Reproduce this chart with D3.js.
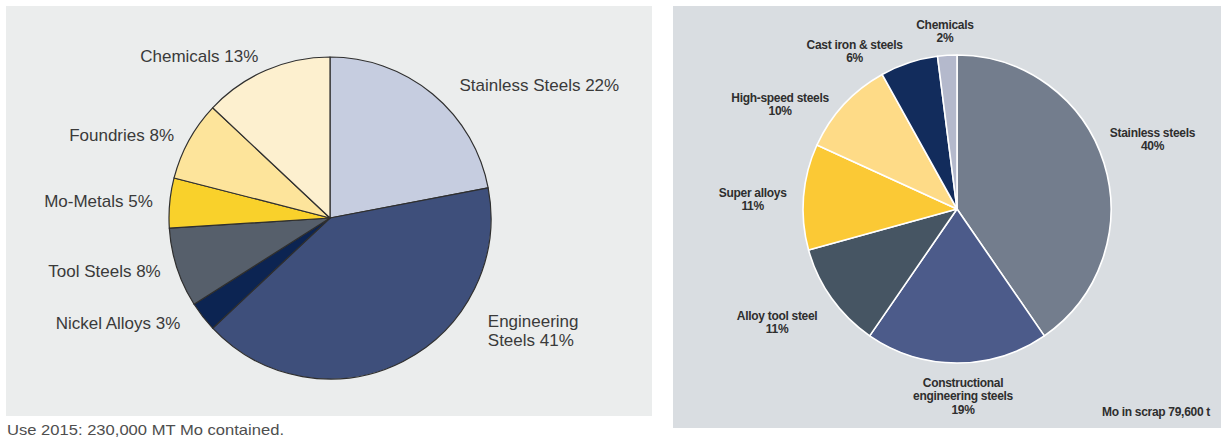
<!DOCTYPE html>
<html>
<head>
<meta charset="utf-8">
<script src="https://cdn.jsdelivr.net/npm/d3@7"></script>
<style>
  html, body { margin: 0; padding: 0; background: #ffffff; }
  svg { display: block; }
</style>
</head>
<body>
<svg id="chart" width="1226" height="446"></svg>
<script>
// Molybdenum end-use, 2015 (left) and molybdenum in scrap (right)
const useCategories = ["Stainless Steels", "Engineering\nSteels", "Nickel Alloys", "Tool Steels", "Mo-Metals", "Foundries", "Chemicals"];
const useValues = [22, 41, 3, 8, 5, 8, 13];
const useColors = ["#c6cde0", "#3e4f7b", "#0c2452", "#565f6b", "#f9d12b", "#fde49b", "#fdf0cf"];

const scrapCategories = ["Stainless steels", "Constructional\nengineering steels", "Alloy tool steel", "Super alloys", "High-speed steels", "Cast iron & steels", "Chemicals"];
const scrapValues = [40, 19, 11, 11, 10, 6, 2];
const scrapColors = ["#737d8d", "#4c5b8a", "#465563", "#fbc935", "#fedb87", "#122c5c", "#b4b9cc"];

const useCaption = "Use 2015: 230,000 MT Mo contained.";
const scrapNote = "Mo in scrap 79,600 t";

const svg = d3.select("#chart");

// ---------- left panel ----------
const L = { x0: 6, y0: 6, x1: 652, y1: 416, cx: 330, cy: 218, r: 161, labelR: 178 };
const useNudge = [[16, 4], [77, -46], [-9, -4], [0, -2], [0, 0], [0, 3], [-1, 1]];

svg.append("rect")
  .attr("x", L.x0).attr("y", L.y0)
  .attr("width", L.x1 - L.x0).attr("height", L.y1 - L.y0)
  .attr("fill", "#ebeded");

const pie = d3.pie().sort(null).value(d => d.value);
const useData = useCategories.map((c, i) => ({ cat: c, value: useValues[i], color: useColors[i], nudge: useNudge[i] }));
const useArcs = pie(useData);
const useArc = d3.arc().innerRadius(0).outerRadius(L.r);

const gL = svg.append("g").attr("transform", `translate(${L.cx},${L.cy})`);
gL.selectAll("path")
  .data(useArcs)
  .join("path")
  .attr("d", useArc)
  .attr("fill", d => d.data.color)
  .attr("stroke", "#2f2f2f")
  .attr("stroke-width", 1.2)
  .attr("stroke-linejoin", "round");

const useLH = 19.3;
gL.selectAll("text.lbl")
  .data(useArcs)
  .join("text")
  .attr("class", "lbl")
  .each(function (d) {
    const a = (d.startAngle + d.endAngle) / 2;
    const s = Math.sin(a), c = Math.cos(a);
    const x = L.labelR * s + d.data.nudge[0];
    const y = -L.labelR * c + d.data.nudge[1];
    const lines = (d.data.cat + " " + d.data.value + "%").split("\n");
    const t = d3.select(this)
      .attr("text-anchor", s < 0 ? "end" : "start")
      .attr("font-family", "'Liberation Sans', Arial, sans-serif")
      .attr("font-size", 17)
      .attr("fill", "#3a3a3a");
    const first = y - (lines.length - 1) * useLH / 2 + 6.1;
    lines.forEach((ln, k) => {
      t.append("tspan").attr("x", x).attr("y", first + k * useLH).text(ln);
    });
  });

svg.append("text")
  .attr("x", 7).attr("y", 435)
  .attr("font-family", "'Liberation Sans', Arial, sans-serif")
  .attr("font-size", 14.5)
  .attr("fill", "#4e4e4e")
  .attr("textLength", 277)
  .attr("lengthAdjust", "spacingAndGlyphs")
  .text(useCaption);

// ---------- right panel ----------
const R = { x0: 673, y0: 6, x1: 1221, y1: 428, cx: 957, cy: 209, r: 154, labelR: 200 };
const scrapNudge = [[4.5, -10.5], [6, -13], [-17, -3], [-5, 6], [-30, 31], [-40, 32], [0.6, 22]];

svg.append("rect")
  .attr("x", R.x0).attr("y", R.y0)
  .attr("width", R.x1 - R.x0).attr("height", R.y1 - R.y0)
  .attr("fill", "#d9dde1");

const scrapData = scrapCategories.map((c, i) => ({ cat: c, value: scrapValues[i], color: scrapColors[i], nudge: scrapNudge[i] }));
const scrapArcs = pie(scrapData);
const scrapArc = d3.arc().innerRadius(0).outerRadius(R.r);

const gR = svg.append("g").attr("transform", `translate(${R.cx},${R.cy})`);
gR.selectAll("path")
  .data(scrapArcs)
  .join("path")
  .attr("d", scrapArc)
  .attr("fill", d => d.data.color)
  .attr("stroke", "#ffffff")
  .attr("stroke-width", 1.6)
  .attr("stroke-linejoin", "round");

const scrapLH = 13.3;
gR.selectAll("text.lbl")
  .data(scrapArcs)
  .join("text")
  .attr("class", "lbl")
  .each(function (d) {
    const a = (d.startAngle + d.endAngle) / 2;
    const x = R.labelR * Math.sin(a) + d.data.nudge[0];
    const y = -R.labelR * Math.cos(a) + d.data.nudge[1];
    const lines = (d.data.cat + "\n" + d.data.value + "%").split("\n");
    const t = d3.select(this)
      .attr("text-anchor", "middle")
      .attr("font-family", "'Liberation Sans', Arial, sans-serif")
      .attr("font-weight", "bold")
      .attr("font-size", 12)
      .attr("letter-spacing", -0.3)
      .attr("fill", "#2e2e2e");
    const first = y - (lines.length - 1) * scrapLH / 2 + 4.3;
    lines.forEach((ln, k) => {
      t.append("tspan").attr("x", x).attr("y", first + k * scrapLH).text(ln);
    });
  });

svg.append("text")
  .attr("x", 1210).attr("y", 415.7)
  .attr("text-anchor", "end")
  .attr("font-family", "'Liberation Sans', Arial, sans-serif")
  .attr("font-weight", "bold")
  .attr("font-size", 12)
  .attr("letter-spacing", -0.3)
  .attr("fill", "#2e2e2e")
  .text(scrapNote);
</script>
</body>
</html>
